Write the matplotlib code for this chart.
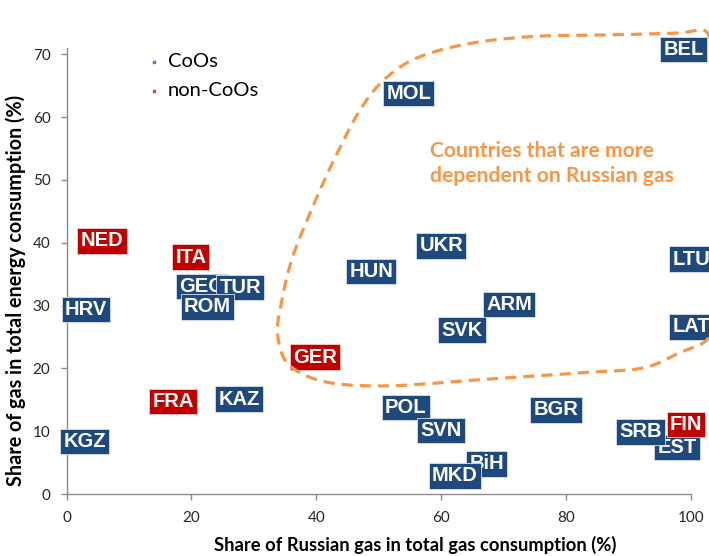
import numpy as np
import matplotlib
matplotlib.use("Agg")
import matplotlib.pyplot as plt

# ---------------- data ----------------
coo_names = ["HRV", "KGZ", "GEO", "TUR", "ROM", "KAZ", "MOL", "HUN", "UKR",
             "ARM", "SVK", "POL", "SVN", "BGR", "BiH", "MKD", "EST", "SRB",
             "BEL", "LTU", "LAT"]
coo_x = [3.1, 2.9, 21.7, 27.8, 22.6, 27.6, 54.8, 48.8, 60.0,
         70.9, 63.3, 54.3, 60.0, 78.4, 67.3, 62.2, 97.8, 91.9,
         98.8, 100.0, 100.0]
coo_y = [29.4, 8.4, 33.0, 32.9, 29.8, 15.1, 63.8, 35.4, 39.5,
         30.2, 26.1, 13.8, 10.1, 13.4, 4.8, 2.9, 7.4, 9.9,
         70.8, 37.4, 26.6]

non_names = ["NED", "ITA", "GER", "FRA", "FIN"]
non_x = [5.7, 19.9, 39.8, 17.1, 99.2]
non_y = [40.3, 37.7, 21.8, 14.7, 11.1]

x_ticks = [0, 20, 40, 60, 80, 100]
y_ticks = [0, 10, 20, 30, 40, 50, 60, 70]

# outline of the "more dependent" region (annotation shape)
region_x = [103.3, 102.3, 98.2, 87.4, 74.2, 63.4, 55.4, 50.7, 47.3, 42.6, 39.0,
            36.2, 34.6, 33.8, 35.0, 37.4, 41.7, 50.2, 66.2, 82.2, 92.9, 98.2,
            102.5, 103.8, 103.9, 103.6]
region_y = [71.5, 73.7, 73.4, 73.1, 72.8, 71.5, 69.1, 65.8, 61.6, 52.7, 44.7,
            37.7, 31.4, 25.6, 21.3, 19.3, 17.8, 17.2, 18.2, 19.3, 20.2, 22.5,
            24.5, 27.7, 46.8, 69.1]

BLUE = "#1F497D"
RED = "#C00000"
ORANGE = "#F79646"

TXT_FONT = ["Lato", "DejaVu Sans"]
LBL_FONT = ["Liberation Sans", "DejaVu Sans"]

# pixel scale (data units -> px) for centripetal spline parametrisation
SX, SY = 6.245, 6.28


def centripetal_closed(xs, ys, n=24, alpha=0.5):
    P = np.column_stack([np.array(xs) * SX, np.array(ys) * SY])
    m = len(P)
    out = []
    for i in range(m):
        p0, p1, p2, p3 = P[(i - 1) % m], P[i], P[(i + 1) % m], P[(i + 2) % m]
        t0 = 0.0
        t1 = t0 + np.linalg.norm(p1 - p0) ** alpha
        t2 = t1 + np.linalg.norm(p2 - p1) ** alpha
        t3 = t2 + np.linalg.norm(p3 - p2) ** alpha
        t = np.linspace(t1, t2, n, endpoint=False)[:, None]
        a1 = (t1 - t) / (t1 - t0) * p0 + (t - t0) / (t1 - t0) * p1
        a2 = (t2 - t) / (t2 - t1) * p1 + (t - t1) / (t2 - t1) * p2
        a3 = (t3 - t) / (t3 - t2) * p2 + (t - t2) / (t3 - t2) * p3
        b1 = (t2 - t) / (t2 - t0) * a1 + (t - t0) / (t2 - t0) * a2
        b2 = (t3 - t) / (t3 - t1) * a2 + (t - t1) / (t3 - t1) * a3
        c = (t2 - t) / (t2 - t1) * b1 + (t - t1) / (t2 - t1) * b2
        out.append(c)
    out = np.vstack(out)
    out = np.vstack([out, out[:1]])
    return out[:, 0] / SX, out[:, 1] / SY


fig = plt.figure(figsize=(7.09, 5.56), dpi=100)
ax = fig.add_axes([66.5 / 709, 1 - 494 / 556, (691 - 66.5) / 709, (494 - 48) / 556])
ax.set_xlim(0, 100)
ax.set_ylim(0, 71)

for s in ["top", "right"]:
    ax.spines[s].set_visible(False)
for s in ["left", "bottom"]:
    ax.spines[s].set_color("#8C8C8C")
    ax.spines[s].set_linewidth(1.0)

ax.set_xticks(x_ticks)
ax.set_yticks(y_ticks)
ax.tick_params(axis="both", direction="out", length=4.5, width=1.0, color="#8C8C8C",
               labelsize=11, labelcolor="#262626")
ax.tick_params(axis="y", pad=7)
ax.tick_params(axis="x", pad=8)
for lab in ax.get_xticklabels() + ax.get_yticklabels():
    lab.set_family(TXT_FONT)

ax.text(0.558, -0.114, "Share of Russian gas in total gas consumption (%)",
        transform=ax.transAxes, fontsize=13.2, fontweight="bold", family=TXT_FONT,
        ha="center", va="center", color="black")
ax.text(-0.082, 0.457, "Share of gas in total energy consumption (%)",
        transform=ax.transAxes, fontsize=14.2, fontweight="bold", family=TXT_FONT,
        ha="center", va="center", rotation=90, color="black")

# markers (tiny, hidden under labels)
ax.scatter(coo_x, coo_y, marker="s", s=3, color="#4F81BD", label="CoOs", zorder=2)
ax.scatter(non_x, non_y, marker="s", s=3, color="#C0504D", label="non-CoOs", zorder=2)

z = 3
for name, x, y in zip(coo_names, coo_x, coo_y):
    ax.text(x, y, name, ha="center", va="center", color="white", fontsize=14.5,
            fontweight="bold", family=LBL_FONT, clip_on=False, zorder=z,
            bbox=dict(boxstyle="square,pad=0.16", facecolor=BLUE, edgecolor="#D9E1EC",
                      linewidth=0.6))
    z += 0.01
for name, x, y in zip(non_names, non_x, non_y):
    ax.text(x, y, name, ha="center", va="center", color="white", fontsize=14.5,
            fontweight="bold", family=LBL_FONT, clip_on=False, zorder=z,
            bbox=dict(boxstyle="square,pad=0.16", facecolor=RED, edgecolor="#F2D0D0",
                      linewidth=0.6))
    z += 0.01

rx, ry = centripetal_closed(region_x, region_y)
ax.plot(rx, ry, color=ORANGE, linewidth=2.3, linestyle=(0, (3.5, 2.2)),
        clip_on=False, zorder=10)

ax.text(58.2, 52.6, "Countries that are more\ndependent on Russian gas", color=ORANGE,
        fontsize=15.2, fontweight="bold", family=TXT_FONT, ha="left", va="center",
        linespacing=1.3, zorder=11)

leg = ax.legend(loc="upper left", bbox_to_anchor=(0.095, 1.03), frameon=False,
                prop={"family": TXT_FONT, "size": 14.5}, handletextpad=0.2,
                labelspacing=0.62, markerscale=1.0, handlelength=1.0)

fig.savefig("out.png", dpi=100)
